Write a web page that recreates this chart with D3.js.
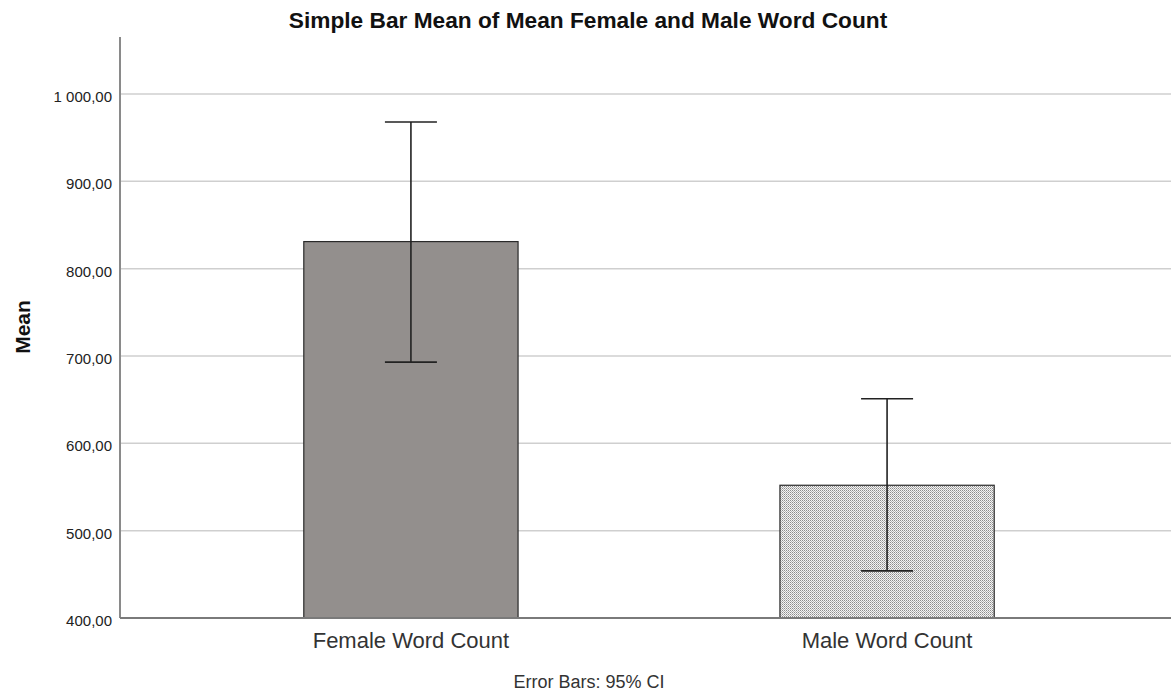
<!DOCTYPE html>
<html>
<head>
<meta charset="utf-8">
<script src="https://cdnjs.cloudflare.com/ajax/libs/d3/7.8.5/d3.min.js"></script>
<style>
  body { margin: 0; background: #fff; }
  text { font-family: "Liberation Sans", Arial, sans-serif; }
</style>
</head>
<body>
<div id="chart"></div>
<script>
// chart data
var categories = ["Female Word Count", "Male Word Count"];
var means = [831, 552];
var ciLow = [693, 454];
var ciHigh = [968, 651];
var yTicks = [400, 500, 600, 700, 800, 900, 1000];

var w = 1171, h = 693;
var margin = {top: 37, right: -7, bottom: 75, left: 120};

var svg = d3.select("#chart").append("svg")
    .attr("width", w)
    .attr("height", h);

// dotted fill for the second bar
var defs = svg.append("defs");
var pat = defs.append("pattern")
    .attr("id", "dots")
    .attr("patternUnits", "userSpaceOnUse")
    .attr("width", 2)
    .attr("height", 2);
pat.append("rect").attr("width", 2).attr("height", 2).attr("fill", "#f4f4f4");
pat.append("rect").attr("width", 1).attr("height", 1).attr("fill", "#8c8c8c");
pat.append("rect").attr("x", 1).attr("y", 1).attr("width", 1).attr("height", 1).attr("fill", "#b4b4b4");

// 400 sits on the baseline (y=618), 1000 at y=94
var y = d3.scaleLinear()
    .domain([400, 1000])
    .range([618, 94]);

var x = d3.scaleBand()
    .domain(categories)
    .range([margin.left, w - margin.right])
    .paddingInner(0.55)
    .paddingOuter(0.386);

var locale = d3.formatLocale({decimal: ",", thousands: " ", grouping: [3], currency: ["", ""]});
var fmt = locale.format(",.2f");

// gridlines
svg.append("g")
    .selectAll("line")
    .data(yTicks.slice(1))
    .enter().append("line")
    .attr("x1", margin.left)
    .attr("x2", w)
    .attr("y1", function(d) { return y(d); })
    .attr("y2", function(d) { return y(d); })
    .style("stroke", "#cfcfcf")
    .style("stroke-width", 1.5);

// y axis
var yAxis = svg.append("g")
    .attr("transform", "translate(" + margin.left + ",0)")
    .call(d3.axisLeft(y).tickValues(yTicks).tickFormat(fmt).tickSize(0).tickPadding(8));
yAxis.select(".domain").remove();
yAxis.selectAll("text")
    .attr("dy", "0.5em")
    .style("font-size", "15px")
    .style("fill", "#222");

svg.append("line")
    .attr("x1", margin.left).attr("x2", margin.left)
    .attr("y1", margin.top).attr("y2", y(400))
    .style("stroke", "#8a8a8a")
    .style("stroke-width", 2);

// bars
svg.append("g")
    .selectAll("rect")
    .data(categories)
    .enter().append("rect")
    .attr("x", function(d) { return x(d); })
    .attr("y", function(d, i) { return y(means[i]); })
    .attr("width", x.bandwidth())
    .attr("height", function(d, i) { return y(400) - y(means[i]); })
    .style("fill", function(d, i) { return i == 0 ? "#938f8d" : "url(#dots)"; })
    .style("stroke", "#2a2a2a")
    .style("stroke-width", 1.2);

// baseline
svg.append("line")
    .attr("x1", margin.left).attr("x2", w)
    .attr("y1", y(400)).attr("y2", y(400))
    .style("stroke", "#7a7a7a")
    .style("stroke-width", 2);

// error bars
var eb = svg.append("g").selectAll("g")
    .data(categories)
    .enter().append("g");
var cap = 26;
eb.append("line")
    .attr("x1", function(d) { return x(d) + x.bandwidth() / 2; })
    .attr("x2", function(d) { return x(d) + x.bandwidth() / 2; })
    .attr("y1", function(d, i) { return y(ciLow[i]); })
    .attr("y2", function(d, i) { return y(ciHigh[i]); });
eb.append("line")
    .attr("x1", function(d) { return x(d) + x.bandwidth() / 2 - cap; })
    .attr("x2", function(d) { return x(d) + x.bandwidth() / 2 + cap; })
    .attr("y1", function(d, i) { return y(ciLow[i]); })
    .attr("y2", function(d, i) { return y(ciLow[i]); });
eb.append("line")
    .attr("x1", function(d) { return x(d) + x.bandwidth() / 2 - cap; })
    .attr("x2", function(d) { return x(d) + x.bandwidth() / 2 + cap; })
    .attr("y1", function(d, i) { return y(ciHigh[i]); })
    .attr("y2", function(d, i) { return y(ciHigh[i]); });
eb.selectAll("line")
    .style("stroke", "#222")
    .style("stroke-width", 1.6);

// x labels
svg.append("g")
    .selectAll("text")
    .data(categories)
    .enter().append("text")
    .attr("x", function(d) { return x(d) + x.bandwidth() / 2; })
    .attr("y", 648)
    .attr("text-anchor", "middle")
    .style("font-size", "22px")
    .style("fill", "#333")
    .text(function(d) { return d; });

// title
svg.append("text")
    .attr("x", 588)
    .attr("y", 28)
    .attr("text-anchor", "middle")
    .style("font-size", "22.7px")
    .style("font-weight", "bold")
    .style("fill", "#111")
    .text("Simple Bar Mean of Mean Female and Male Word Count");

// y title
svg.append("text")
    .attr("transform", "translate(30,327) rotate(-90)")
    .attr("text-anchor", "middle")
    .style("font-size", "21px")
    .style("font-weight", "bold")
    .style("fill", "#111")
    .text("Mean");

// footer
svg.append("text")
    .attr("x", 589)
    .attr("y", 688)
    .attr("text-anchor", "middle")
    .style("font-size", "18px")
    .style("fill", "#333")
    .text("Error Bars: 95% CI");
</script>
</body>
</html>
